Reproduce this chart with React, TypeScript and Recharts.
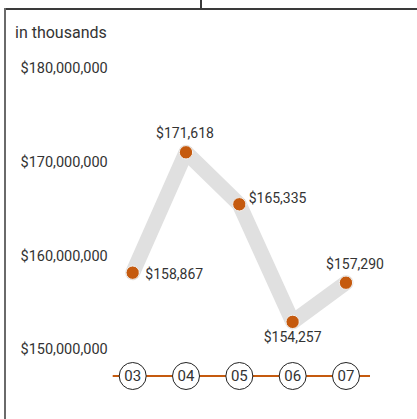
import React from 'react';
import { LineChart, Line, XAxis, YAxis, LabelList } from 'recharts';

const years = ['03', '04', '05', '06', '07'];
// plotted heights (millions of dollars)
const plottedMillions = [158.15, 171.0, 165.45, 152.9, 157.08];
// values printed next to the points (in thousands)
const labelValues = [158867, 171618, 165335, 154257, 157290];
const yTicks = [150000000, 160000000, 170000000, 180000000];
const yDomain = [147120000, 180000000];

const data = years.map((y, i) => ({
  year: y,
  value: plottedMillions[i] * 1000000,
  label: labelValues[i],
}));

const ORANGE = '#C55A0E';
const TEXT = '#333333';
const FONT = 'Roboto, sans-serif';

// label placement offsets relative to each point: [dx, dy, anchor]
const labelPlacement: [number, number, 'start' | 'middle' | 'end'][] = [
  [12.6, 1.3, 'start'],
  [-1, -19.6, 'middle'],
  [9.3, -6.3, 'start'],
  [0, 15, 'middle'],
  [9, -18.7, 'middle'],
];

const fmt = (n: number) => '$' + n.toLocaleString('en-US');

const YTick = (props: any) => {
  const { x, y, payload } = props;
  return (
    <text x={x} y={y} dy="0.36em" textAnchor="end" fill={TEXT} fontSize={14.5} fontFamily={FONT}>
      {fmt(payload.value)}
    </text>
  );
};

const XTick = (props: any) => {
  const { x, y, payload } = props;
  return (
    <g>
      <circle cx={x} cy={y} r={13.5} fill="#fff" stroke="#222" strokeWidth={1} />
      <text x={x} y={y} dy="0.36em" textAnchor="middle" fill={TEXT} fontSize={15} fontFamily={FONT}>
        {payload.value}
      </text>
    </g>
  );
};

const PointLabel = (props: any) => {
  const { x, y, index, value } = props;
  const [dx, dy, anchor] = labelPlacement[index];
  return (
    <text x={x + dx} y={y + dy} dy="0.36em" textAnchor={anchor} fill={TEXT} fontSize={14} fontFamily={FONT}>
      {fmt(value)}
    </text>
  );
};

export default function App() {
  return (
    <div style={{ position: 'absolute', left: 0, top: 0, width: 417, height: 419, background: '#fff', overflow: 'hidden' }}>
      <div style={{ position: 'absolute', left: 4, top: 8, width: 413, height: 2, background: '#3a3a3a' }} />
      <div style={{ position: 'absolute', left: 200, top: 0, width: 2, height: 9, background: '#3a3a3a' }} />
      <div style={{ position: 'absolute', left: 4, top: 8, width: 2, height: 411, background: '#6a6a6a' }} />
      <div style={{ position: 'absolute', left: 15, top: 22, fontFamily: FONT, fontSize: 16, color: TEXT, lineHeight: '22px' }}>
        in thousands
      </div>
      <div style={{ position: 'absolute', left: 0, top: 0 }}>
        <LineChart width={417} height={419} data={data} margin={{ top: 68, right: 47, bottom: 13, left: 0 }}>
          <XAxis
            dataKey="year"
            height={30}
            padding={{ left: 20, right: 24 }}
            axisLine={{ stroke: ORANGE, strokeWidth: 2 }}
            tickLine={false}
            tickSize={0}
            tickMargin={0}
            tick={<XTick />}
            interval={0}
          />
          <YAxis
            width={112.7}
            domain={yDomain}
            ticks={yTicks}
            axisLine={false}
            tickLine={false}
            tickSize={0}
            tickMargin={5}
            tick={<YTick />}
            allowDataOverflow
          />
          <Line
            type="linear"
            dataKey="value"
            stroke="#e0e0e0"
            strokeWidth={15}
            strokeLinejoin="round"
            strokeLinecap="round"
            dot={{ r: 6.7, fill: ORANGE, stroke: '#f2f2f2', strokeWidth: 1 }}
            activeDot={false}
            isAnimationActive={false}
          >
            <LabelList dataKey="label" content={<PointLabel />} />
          </Line>
        </LineChart>
      </div>
    </div>
  );
}
